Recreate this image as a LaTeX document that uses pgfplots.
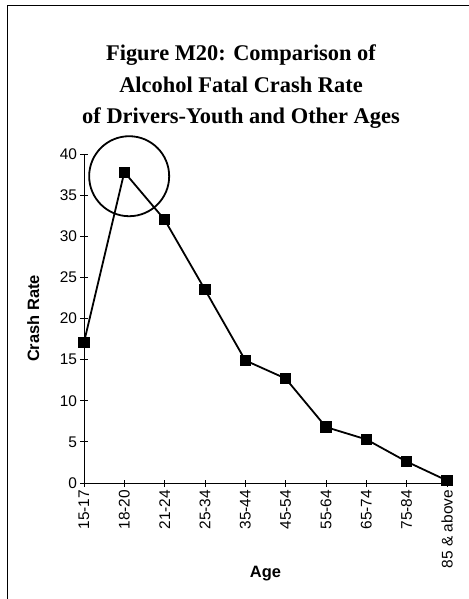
\documentclass[border=0pt]{standalone}
\usepackage{fontspec}
\setmainfont{Liberation Sans}
\newfontfamily\titlefont{Liberation Serif}
\usepackage{pgfplots}
\pgfplotsset{compat=1.18}

\begin{document}
\begin{tikzpicture}
% page frame, origin at top-left of the picture
\path[use as bounding box] (0,0) rectangle (469bp,-599bp);
\draw[line width=1bp] (7bp,-599bp) -- (7bp,-5bp) -- (469bp,-5bp);

% title
\node[anchor=base, font=\titlefont\bfseries\fontsize{22.5}{26}\selectfont] at (241bp,-60bp) {Figure M20: Comparison of};
\node[anchor=base, font=\titlefont\bfseries\fontsize{22.5}{26}\selectfont] at (241bp,-92bp) {Alcohol Fatal Crash Rate};
\node[anchor=base, font=\titlefont\bfseries\fontsize{22.5}{26}\selectfont] at (241bp,-123bp) {of Drivers-Youth and Other Ages};

\begin{axis}[
  at={(84bp,-483bp)}, anchor=south west,
  scale only axis,
  width=363bp, height=329bp,
  xmin=0, xmax=9, ymin=0, ymax=40,
  axis x line=bottom, axis y line=left,
  axis line style={-, line width=1bp},
  clip=false,
  xtick=data,
  xticklabels={15-17, 18-20, 21-24, 25-34, 35-44, 45-54, 55-64, 65-74, 75-84, 85 \& above},
  xticklabel style={rotate=90, anchor=east},
  ytick={0,5,...,40},
  tick align=center,
  major tick length=7bp,
  tick style={black, line width=0.8bp},
  tick label style={font=\fontsize{15.5}{17}\selectfont},
  /pgf/number format/assume math mode=true,
  xlabel={Age},
  ylabel={Crash Rate},
  label style={font=\bfseries\fontsize{16.5}{19}\selectfont},
  xlabel style={at={(axis description cs:0.5,-0.274)}, anchor=center},
  ylabel style={at={(axis description cs:-0.14,0.5)}, anchor=center},
]
\addplot[black, line width=1.8bp, mark=square*, mark size=4.7bp, mark options={solid}] coordinates {
  (0, 17.1)
  (1, 37.8)
  (2, 32.0)
  (3, 23.5)
  (4, 14.9)
  (5, 12.7)
  (6, 6.8)
  (7, 5.3)
  (8, 2.6)
  (9, 0.3)
};
% highlight circle round the peak
\draw[line width=1.8bp] (axis cs:1.12,37.3) circle[radius=40bp];
\end{axis}
\end{tikzpicture}
\end{document}
